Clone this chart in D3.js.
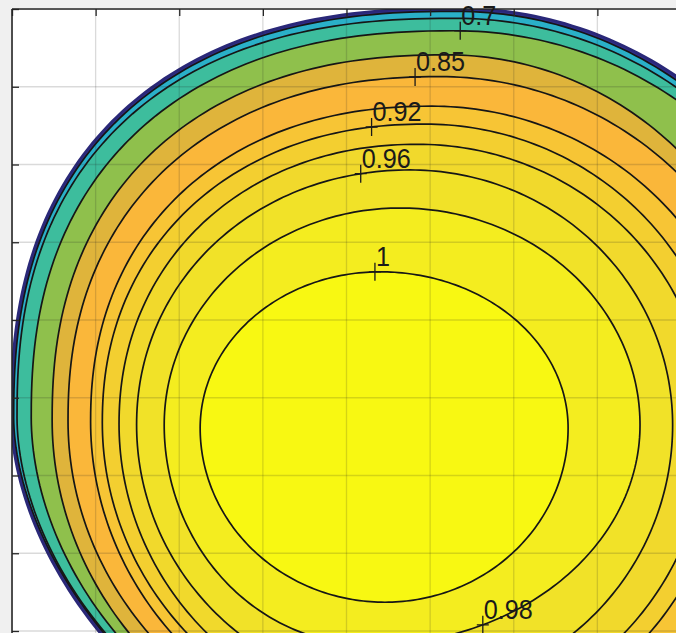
<!DOCTYPE html>
<html><head><meta charset="utf-8">
<script src="https://cdn.jsdelivr.net/npm/d3@7/dist/d3.min.js"></script>
<style>html,body{margin:0;padding:0;background:#f0f0f0;} svg{display:block;}</style>
</head><body>
<svg id="chart" width="676" height="633"></svg>
<script>
// ---- data (axis units) ----
// contour levels, outermost to innermost
const levels  = [0.1, 0.5, 0.6, 0.7, 0.8, 0.85, 0.9, 0.92, 0.94, 0.96, 0.98, 1.0];
// each contour line: its extreme points
const xTop    = [5.32, 5.32, 5.31, 5.30, 5.21, 5.12, 5.02, 4.94, 4.85, 4.76, 4.64, 4.40];
const xBottom = [5.30, 5.30, 5.30, 5.30, 5.24, 5.18, 5.06, 4.96, 4.89, 4.74, 4.28, 4.46];
const yMid    = [2.74, 2.74, 2.74, 2.74, 2.71, 2.70, 2.69, 2.68, 2.66, 2.65, 2.65, 2.61];
const xLeft   = [-0.01, 0.02, 0.06, 0.23, 0.48, 0.67, 0.94, 1.08, 1.28, 1.49, 1.82, 2.25];
const xRight  = [10.08, 10.03, 10.00, 9.94, 9.30, 9.21, 8.85, 8.56, 8.32, 7.90, 7.51, 6.65];
const yTop    = [8.01, 7.97, 7.88, 7.72, 7.41, 7.13, 6.75, 6.52, 6.26, 5.93, 5.44, 4.62];
const yBottom = [-2.37, -2.32, -2.21, -2.11, -1.92, -1.72, -1.53, -1.34, -1.15, -0.78, -0.18, 0.37];
// roundness of each quarter (2 = ellipse)
const bendTL = [2.4, 2.4, 2.4, 2.35, 2.3, 2.25, 2.2, 2.15, 2.1, 2.05, 2.0, 2.0];
const bendTR = [2.0, 2.0, 2.0, 2.0, 2.0, 2.0, 2.0, 2.0, 2.0, 2.0, 2.0, 2.0];
const bendBR = [2.0, 2.0, 2.0, 2.0, 2.0, 2.0, 2.0, 2.0, 2.0, 2.0, 2.0, 2.0];
const bendBL = [1.8, 1.8, 1.85, 1.9, 2.0, 2.0, 2.0, 2.0, 2.0, 2.0, 2.0, 2.0];
// contour labels
const labelText  = ["0.7", "0.85", "0.92", "0.96", "1", "0.98"];
const labelLevel = [0.7, 0.85, 0.92, 0.96, 1.0, 0.98];
const labelX     = [5.36, 4.82, 4.30, 4.17, 4.34, 5.63];
const labelSide  = ["top", "top", "top", "top", "top", "bottom"];
// axis ticks (tick labels are outside the visible area)
const xTicks = [0, 1, 2, 3, 4, 5, 6, 7, 8];
const yTicks = [-1, 0, 1, 2, 3, 4, 5, 6, 7, 8];

// ---- styles ----
const bandColors = ["#2f2c8a", "#2ab0c8", "#3dbd9d", "#8fc04c", "#dfb43b", "#fab73a",
                    "#f7c535", "#f3cf30", "#f1d92c", "#f1e228", "#f4ed1f", "#f8f812"];

const W = 676, H = 633;
const svg = d3.select("#chart");
const x = d3.scaleLinear().domain([0, 8]).range([12, 681]);
const y = d3.scaleLinear().domain([0, 8]).range([631, 9]);

const axL = 12, axT = 9, axR = 760, axB = 720;

svg.append("rect").attr("width", W).attr("height", H).attr("fill", "#f0f0f0");
svg.append("defs").append("clipPath").attr("id", "ax")
  .append("rect").attr("x", axL).attr("y", axT).attr("width", axR - axL).attr("height", axB - axT);
svg.append("rect").attr("x", axL).attr("y", axT).attr("width", axR - axL).attr("height", axB - axT).attr("fill", "#fff");

const contours = levels.map((lv, i) => ({
  level: lv, xT: xTop[i], xB: xBottom[i], ym: yMid[i], l: xLeft[i], r: xRight[i],
  t: yTop[i], b: yBottom[i],
  n: { TL: bendTL[i], TR: bendTR[i], BR: bendBR[i], BL: bendBL[i] },
  color: bandColors[i], idx: i
}));

function quarter(c, right, upper) {
  const key = (upper ? "T" : "B") + (right ? "R" : "L");
  const cx = upper ? c.xT : c.xB;
  return { cx, a: right ? c.r - cx : cx - c.l, bb: upper ? c.t - c.ym : c.ym - c.b, n: c.n[key] };
}
function shapePoints(c) {
  const pts = [], N = 320;
  for (let k = 0; k < N; k++) {
    const th = 2 * Math.PI * k / N;
    const cs = Math.cos(th), sn = Math.sin(th);
    const q = quarter(c, cs >= 0, sn >= 0);
    const px = q.cx + Math.sign(cs) * q.a * Math.pow(Math.abs(cs), 2 / q.n);
    const py = c.ym + Math.sign(sn) * q.bb * Math.pow(Math.abs(sn), 2 / q.n);
    pts.push([px, py]);
  }
  return pts;
}
function yOnContour(c, xv, side) {
  const upper = side === "top";
  const cx = upper ? c.xT : c.xB;
  const q = quarter(c, xv >= cx, upper);
  const f = Math.pow(Math.max(0, 1 - Math.pow(Math.abs(xv - q.cx) / q.a, q.n)), 1 / q.n);
  return upper ? c.ym + q.bb * f : c.ym - q.bb * f;
}

const line = d3.line().x(d => x(d[0])).y(d => y(d[1])).curve(d3.curveLinearClosed);
const g = svg.append("g").attr("clip-path", "url(#ax)");
g.selectAll("path.fill").data(contours).join("path")
  .attr("class", "fill")
  .attr("d", c => line(shapePoints(c)))
  .attr("fill", c => c.color)
  .attr("stroke", c => c.idx === 0 ? "#2a2878" : "#161616")
  .attr("stroke-width", c => c.idx === 0 ? 2.6 : 1.7);

// grid
const grid = svg.append("g").attr("clip-path", "url(#ax)")
  .attr("stroke", "#262626").attr("stroke-opacity", 0.17).attr("stroke-width", 1.3);
grid.selectAll("line.gx").data(xTicks).join("line").attr("class", "gx")
  .attr("x1", d => x(d)).attr("x2", d => x(d)).attr("y1", axT).attr("y2", axB);
grid.selectAll("line.gy").data(yTicks).join("line").attr("class", "gy")
  .attr("y1", d => y(d)).attr("y2", d => y(d)).attr("x1", axL).attr("x2", axR);

// axes
const xAxis = d3.axisTop(x).tickValues(xTicks).tickSize(-7).tickFormat("");
const yAxis = d3.axisLeft(y).tickValues(yTicks).tickSize(-7).tickFormat("");
const gx = svg.append("g").attr("transform", `translate(0,${axT})`).call(xAxis);
const gy = svg.append("g").attr("transform", `translate(${axL},0)`).call(yAxis);
[gx, gy].forEach(a => {
  a.select(".domain").remove();
  a.selectAll(".tick line").attr("stroke", "#262626").attr("stroke-width", 1.3);
});
svg.append("line").attr("x1", axL).attr("x2", W).attr("y1", axT).attr("y2", axT)
  .attr("stroke", "#262626").attr("stroke-width", 1.6);
svg.append("line").attr("x1", axL).attr("x2", axL).attr("y1", axT).attr("y2", H)
  .attr("stroke", "#262626").attr("stroke-width", 1.6);

// labels
const labels = labelText.map((t, i) => {
  const c = contours.find(cc => cc.level === labelLevel[i]);
  return { text: t, px: x(labelX[i]), py: y(yOnContour(c, labelX[i], labelSide[i])) };
});
const lg = svg.append("g");
lg.selectAll("path.cross").data(labels).join("path").attr("class", "cross")
  .attr("d", d => `M${d.px - 6},${d.py}H${d.px + 6}M${d.px},${d.py - 9}V${d.py + 9}`)
  .attr("stroke", "#1a1a1a").attr("stroke-width", 1.3);
lg.selectAll("text").data(labels).join("text")
  .attr("transform", d => `translate(${d.px + 1},${d.py - 6}) scale(0.9,1)`)
  .attr("font-family", "'Liberation Sans', Arial, sans-serif")
  .attr("font-size", 28).attr("fill", "#1a1a1a")
  .text(d => d.text);
</script>
</body></html>
